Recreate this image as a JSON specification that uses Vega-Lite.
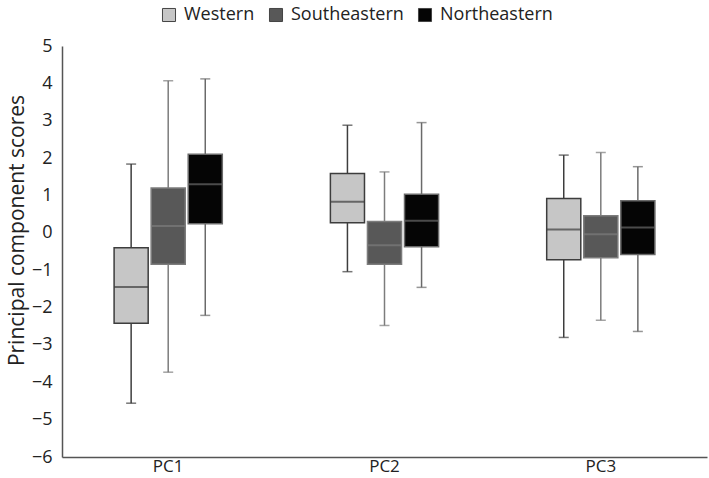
{
  "$schema": "https://vega.github.io/schema/vega-lite/v6.json",
  "width": 645,
  "height": 411,
  "autosize": "none",
  "padding": {"left": 62, "top": 46, "right": 2, "bottom": 21},
  "background": "white",
  "config": {
    "font": "Open Sans",
    "view": {"stroke": null},
    "axis": {"grid": false, "ticks": false, "domainColor": "#555555", "domainWidth": 1.5, "labelColor": "#222222", "titleColor": "#222222", "labelOverlap": false, "labelBound": false}
  },
  "data": {
    "values": [
      {"pc": "PC1", "region": "Western", "min": -4.56, "q1": -2.42, "median": -1.45, "q3": -0.40, "max": 1.84},
      {"pc": "PC1", "region": "Southeastern", "min": -3.73, "q1": -0.84, "median": 0.18, "q3": 1.20, "max": 4.07},
      {"pc": "PC1", "region": "Northeastern", "min": -2.21, "q1": 0.24, "median": 1.30, "q3": 2.10, "max": 4.12},
      {"pc": "PC2", "region": "Western", "min": -1.04, "q1": 0.27, "median": 0.83, "q3": 1.59, "max": 2.88},
      {"pc": "PC2", "region": "Southeastern", "min": -2.48, "q1": -0.84, "median": -0.33, "q3": 0.30, "max": 1.63},
      {"pc": "PC2", "region": "Northeastern", "min": -1.46, "q1": -0.37, "median": 0.32, "q3": 1.03, "max": 2.95},
      {"pc": "PC3", "region": "Western", "min": -2.80, "q1": -0.72, "median": 0.09, "q3": 0.92, "max": 2.08},
      {"pc": "PC3", "region": "Southeastern", "min": -2.34, "q1": -0.67, "median": -0.04, "q3": 0.46, "max": 2.15},
      {"pc": "PC3", "region": "Northeastern", "min": -2.64, "q1": -0.58, "median": 0.14, "q3": 0.86, "max": 1.77}
    ]
  },
  "encoding": {
    "x": {
      "field": "pc", "type": "nominal",
      "scale": {"paddingInner": 0.486, "paddingOuter": 0.234},
      "axis": {"title": null, "labelAngle": 0, "labelFontSize": 17, "labelPadding": 1}
    },
    "xOffset": {
      "field": "region", "type": "nominal",
      "sort": ["Western", "Southeastern", "Northeastern"],
      "scale": {"paddingInner": 0.08, "paddingOuter": 0.04}
    }
  },
  "layer": [
    {
      "mark": {"type": "rule", "strokeWidth": 1.5},
      "encoding": {
        "y": {
          "field": "min", "type": "quantitative",
          "scale": {"domain": [-6, 5], "nice": false, "zero": false},
          "axis": {"title": "Principal component scores", "values": [-6, -5, -4, -3, -2, -1, 0, 1, 2, 3, 4, 5], "labelFontSize": 18, "labelPadding": 10, "labelOverlap": false, "titleFontSize": 21, "titleFontWeight": "normal", "titlePadding": 4, "titleY": 184}
        },
        "y2": {"field": "max"},
        "stroke": {"field": "region", "type": "nominal", "scale": {"domain": ["Northeastern", "Southeastern", "Western"], "range": ["#6a6a6a", "#7c7c7c", "#3d3d3d"]}, "legend": null}
      }
    },
    {
      "mark": {"type": "tick", "size": 10, "thickness": 1.5},
      "encoding": {
        "y": {"field": "min", "type": "quantitative", "axis": {"title": "Principal component scores", "values": [-6, -5, -4, -3, -2, -1, 0, 1, 2, 3, 4, 5], "labelFontSize": 18, "labelPadding": 10, "labelOverlap": false, "titleFontSize": 21, "titleFontWeight": "normal", "titlePadding": 4, "titleY": 184}},
        "fill": {"field": "region", "type": "nominal", "scale": {"domain": ["Northeastern", "Southeastern", "Western"], "range": ["#6a6a6a", "#7c7c7c", "#3d3d3d"]}, "legend": null}
      }
    },
    {
      "mark": {"type": "tick", "size": 10, "thickness": 1.5},
      "encoding": {
        "y": {"field": "max", "type": "quantitative", "axis": {"title": "Principal component scores", "values": [-6, -5, -4, -3, -2, -1, 0, 1, 2, 3, 4, 5], "labelFontSize": 18, "labelPadding": 10, "labelOverlap": false, "titleFontSize": 21, "titleFontWeight": "normal", "titlePadding": 4, "titleY": 184}},
        "fill": {"field": "region", "type": "nominal", "legend": null}
      }
    },
    {
      "mark": {"type": "bar", "strokeWidth": 1.5},
      "encoding": {
        "y": {"field": "q1", "type": "quantitative", "axis": {"title": "Principal component scores", "values": [-6, -5, -4, -3, -2, -1, 0, 1, 2, 3, 4, 5], "labelFontSize": 18, "labelPadding": 10, "labelOverlap": false, "titleFontSize": 21, "titleFontWeight": "normal", "titlePadding": 4, "titleY": 184}},
        "y2": {"field": "q3"},
        "color": {
          "field": "region", "type": "nominal",
          "sort": ["Western", "Southeastern", "Northeastern"],
          "scale": {"domain": ["Western", "Southeastern", "Northeastern"], "range": ["#c6c6c6", "#585858", "#050505"]},
          "legend": {"title": null, "orient": "none", "legendX": 98, "legendY": -40, "padding": 0, "direction": "horizontal", "labelFontSize": 18, "labelColor": "#222222", "symbolType": "square", "symbolSize": 170, "symbolStrokeColor": "#444444", "symbolStrokeWidth": 1, "columnPadding": 12, "labelOffset": 6}
        },
        "stroke": {"field": "region", "type": "nominal", "legend": null}
      }
    },
    {
      "mark": {"type": "tick", "size": 34, "thickness": 2},
      "encoding": {
        "y": {"field": "median", "type": "quantitative", "axis": {"title": "Principal component scores", "values": [-6, -5, -4, -3, -2, -1, 0, 1, 2, 3, 4, 5], "labelFontSize": 18, "labelPadding": 10, "labelOverlap": false, "titleFontSize": 21, "titleFontWeight": "normal", "titlePadding": 4, "titleY": 184}},
        "fill": {"field": "region", "type": "nominal", "legend": null}
      }
    }
  ]
}
